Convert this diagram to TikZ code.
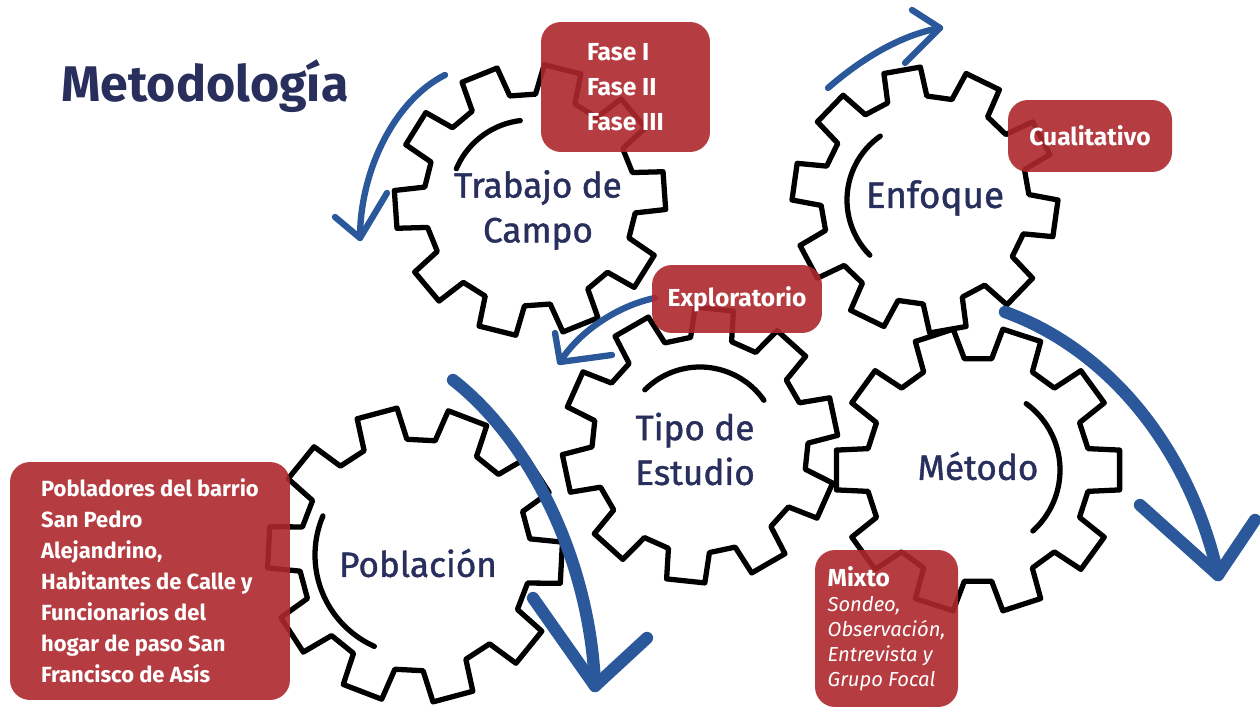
\documentclass[tikz,border=0pt]{standalone}
\usepackage{fontspec}
\setmainfont{Fira Sans}
\newfontfamily\labelfont{Fira Sans}[FakeBold=1.2]
\usetikzlibrary{calc}

\definecolor{navytext}{RGB}{40,47,92}
\definecolor{boxred}{RGB}{174,40,46}
\definecolor{arrowblue}{RGB}{42,88,155}

\tikzset{
  gearline/.style={line width=3pt, line join=round, fill=white},
  innerarc/.style={line width=3pt, line cap=round},
  gearlabel/.style={text=navytext, align=center, font=\labelfont\fontsize{20}{25.5}\selectfont},
  redbox/.style={fill=boxred, fill opacity=0.9, text opacity=1, text=white,
    rounded corners=0.4cm, align=left},
  bluearrow/.style={draw=arrowblue, line width=3.6pt, line cap=round, line join=round},
  bigarrow/.style={bluearrow, line width=7pt},
}

% gear: center, outer radius, inner radius, rotation
\newcommand{\gear}[4]{%
  \begin{scope}[shift={(#1)}, rotate=#4]
    \draw[gearline] (-11:#3)
      \foreach \k in {0,...,9} {
        -- ({36*\k-11}:#3) -- ({36*\k-8}:#2) -- ({36*\k+8}:#2) -- ({36*\k+11}:#3)
      } -- cycle;
  \end{scope}}

\begin{document}
\begin{tikzpicture}[x=0.02cm, y=-0.02cm]

\useasboundingbox (0,0) rectangle (1260,712);
\fill[white] (0,0) rectangle (1260,712);
\clip (0,0) rectangle (1260,712);

% gears
\gear{530,200}{136}{106}{4}
\gear{925,200}{133}{104}{-8}
\gear{700,445}{138}{108}{12}
\gear{978,470}{143}{112}{0}
\gear{415,555}{148}{116}{-3}

% inner arcs
\draw[innerarc, shift={(530,200)}] plot[domain=203:263, samples=30, smooth] (\x:80);
\draw[innerarc, shift={(925,200)}] plot[domain=135:235, samples=30, smooth] (\x:78);
\draw[innerarc, shift={(700,445)}] plot[domain=225:325, samples=30, smooth] (\x:78);
\draw[innerarc, shift={(978,470)}] plot[domain=-54:48, samples=30, smooth] (\x:82);
\draw[innerarc, shift={(415,555)}] plot[domain=114:203, samples=30, smooth] (\x:100);

% labels
\node[text=navytext, font=\fontsize{28.5}{30}\selectfont\bfseries] (titulo) at (205,86) {Metodología};
\node[gearlabel] (trabajo) at (538,210) {Trabajo de\\Campo};
\node[gearlabel, font=\labelfont\fontsize{21}{25}\selectfont] (enfoque) at (935,198) {Enfoque};
\node[gearlabel] (tipo) at (695,449) {Tipo de\\Estudio};
\node[gearlabel] (metodo) at (978,466) {Método};
\node[gearlabel] (poblacion) at (418,563) {Población};

% arrows
\coordinate (a1s) at (445,75);
\coordinate (a1t) at (360,238);
\draw[bluearrow] (a1s) .. controls (395,100) and (360,170) .. (a1t);
\draw[bluearrow] (335,217) -- (a1t) -- (387,193);

\coordinate (a2s) at (828,88);
\coordinate (a2t) at (940,28);
\draw[bluearrow] (a2s) .. controls (860,60) and (900,35) .. (a2t);
\draw[bluearrow] (912,10) -- (a2t) -- (905,63);

\coordinate (a3s) at (655,298);
\coordinate (a3t) at (560,362);
\draw[bluearrow] (a3s) .. controls (620,305) and (580,330) .. (a3t);
\draw[bluearrow] (555,333) -- (a3t) -- (612,355);

\coordinate (a4s) at (453,380);
\coordinate (a4t) at (595,686);
\draw[bigarrow] (a4s) .. controls (530,440) and (590,560) .. (a4t);
\draw[bigarrow] (533,598) -- (a4t) -- (647,638);

\coordinate (a5s) at (1005,312);
\coordinate (a5t) at (1218,575);
\draw[bigarrow] (a5s) .. controls (1110,350) and (1190,450) .. (a5t);
\draw[bigarrow] (1140,505) -- (a5t) -- (1255,520);

% red boxes
\node[redbox, minimum width=3.38cm, minimum height=2.6cm,
  font=\fontsize{14}{19.8}\selectfont\bfseries] (fases) at (625.5,87) {Fase I\\Fase II\\Fase III};
\node[redbox, minimum width=3.28cm, minimum height=1.44cm,
  font=\fontsize{14}{17}\selectfont\bfseries] (cualitativo) at (1090,136) {Cualitativo};
\node[redbox, minimum width=3.4cm, minimum height=1.36cm,
  font=\fontsize{14}{17}\selectfont\bfseries] (exploratorio) at (737,299) {Exploratorio};
\node[redbox, minimum width=5.6cm, minimum height=4.76cm,
  font=\fontsize{12.5}{17.6}\selectfont\bfseries] (pobladores) at (150,581)
  {Pobladores del barrio\\San Pedro\\Alejandrino,\\Habitantes de Calle y\\Funcionarios del\\hogar de paso San\\Francisco de Asís};
\node[redbox, minimum width=2.86cm, minimum height=3.14cm,
  font=\fontsize{11.5}{14.2}\selectfont] (mixto) at (886.5,628.5)
  {{\bfseries\fontsize{14}{14.2}\selectfont Mixto}\\\textit{Sondeo,}\\\textit{Observación,}\\\textit{Entrevista y}\\\textit{Grupo Focal}};

\end{tikzpicture}
\end{document}
